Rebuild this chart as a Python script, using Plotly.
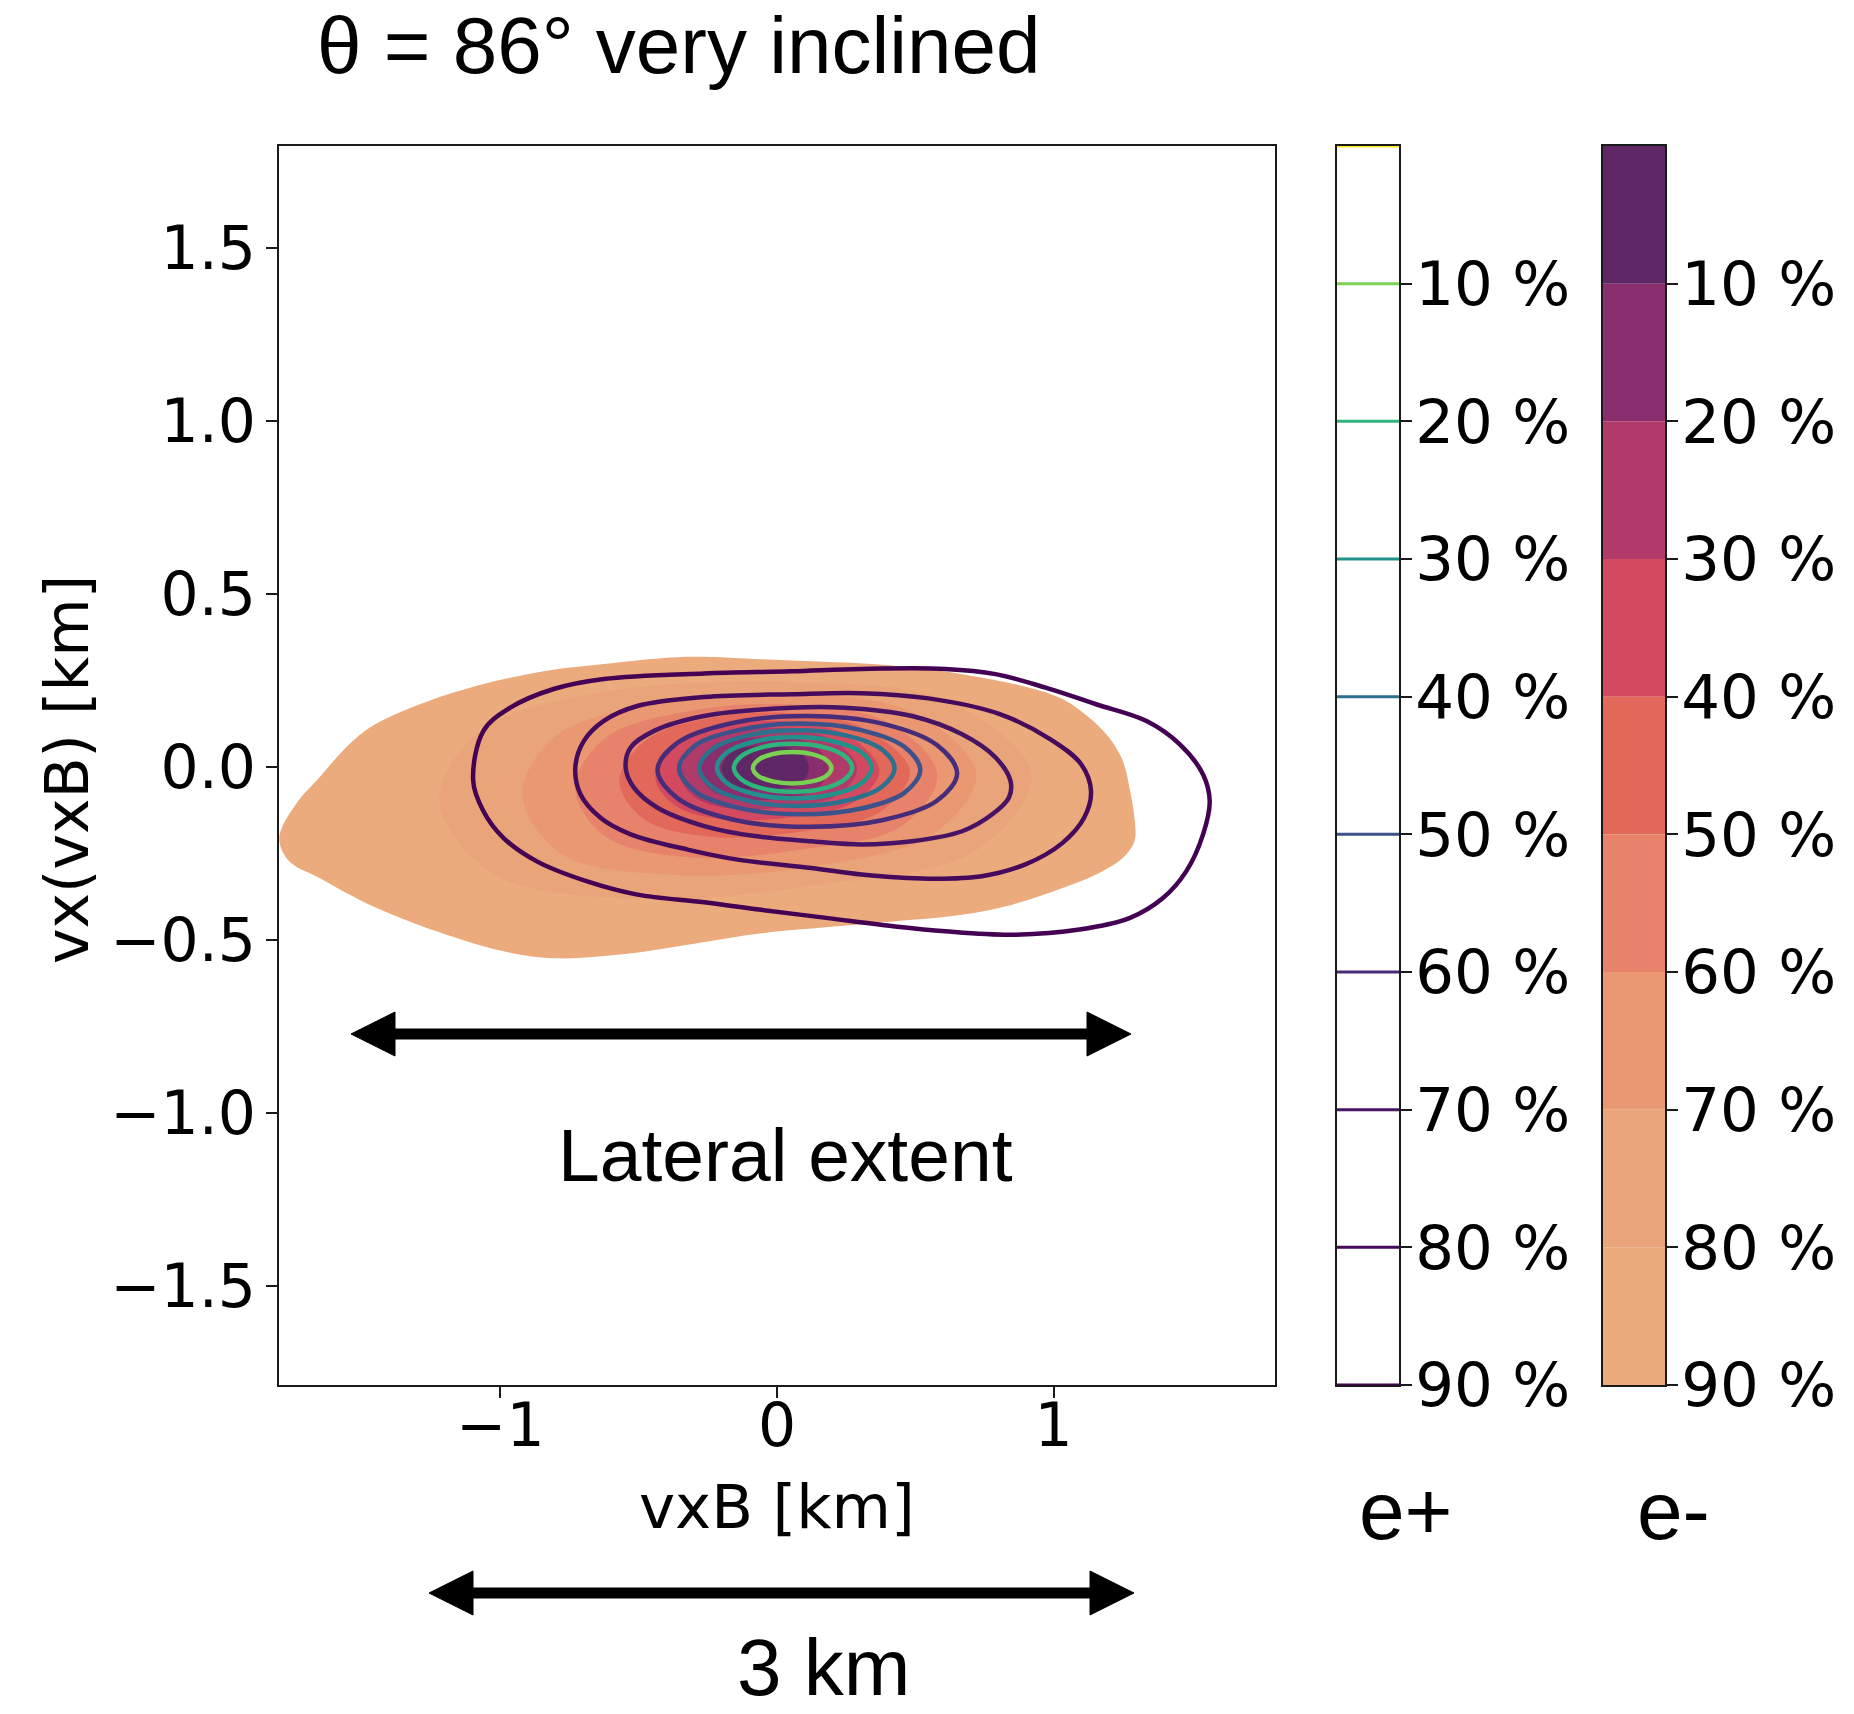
import plotly.graph_objects as go

W = 1854          # figure width in px
H = 1749          # figure height in px
FRAME_H = 1714    # vertical extent used by the pixel helpers below

# Percentage levels shown on both colour bars
levels = [10, 20, 30, 40, 50, 60, 70, 80, 90]
level_labels = ["10 %", "20 %", "30 %", "40 %", "50 %", "60 %", "70 %", "80 %", "90 %"]

# e+ contour line colours: cap line (0 %) and one per level
ep_cap_color = "#fde725"
ep_colors = ["#7ad151", "#2fb47c", "#21918c", "#2c718e", "#3b528b",
             "#472c7a", "#471365", "#450a5c", "#440154"]

# e- filled band colours, band 0-10 % ... 80-90 %
em_colors = ["#5f2766", "#8b2e6d", "#b03a69", "#d34a60", "#e2685a",
             "#e6836a", "#e99872", "#eaa479", "#ebab7c"]

# ---- e- containment contours (filled), vxB / vx(vxB) in km ----
em90_x = [-1.799, -1.739, -1.654, -1.570, -1.473, -1.291, -1.110, -0.868, -0.626, -0.323,
          -0.057, 0.124, 0.379, 0.669, 0.911, 1.032, 1.129, 1.201, 1.250, 1.274,
          1.292, 1.292, 1.250, 1.153, 1.032, 0.850, 0.669, 0.427, 0.185, -0.057,
          -0.300, -0.550, -0.807, -0.989, -1.230, -1.473, -1.654, -1.763]
em90_y = [-0.204, -0.107, -0.030, 0.047, 0.114, 0.182, 0.230, 0.274, 0.298, 0.319,
          0.312, 0.306, 0.296, 0.269, 0.230, 0.197, 0.143, 0.085, 0.018, -0.059,
          -0.146, -0.214, -0.262, -0.310, -0.349, -0.397, -0.426, -0.445, -0.462, -0.480,
          -0.510, -0.540, -0.552, -0.532, -0.474, -0.397, -0.320, -0.272]
em80_x = [-1.22, -1.08, -0.65, 0.10, 0.62, 0.92, 0.72, 0.15, -0.50, -1.02]
em80_y = [-0.10, 0.10, 0.215, 0.245, 0.19, -0.02, -0.24, -0.34, -0.38, -0.31]
em70_x = [-0.92, -0.80, -0.42, 0.10, 0.50, 0.72, 0.57, 0.10, -0.40, -0.78]
em70_y = [-0.08, 0.09, 0.185, 0.21, 0.155, -0.02, -0.19, -0.29, -0.31, -0.25]
em60_x = [-0.73, -0.62, -0.30, 0.08, 0.40, 0.58, 0.45, 0.07, -0.32, -0.62]
em60_y = [-0.06, 0.085, 0.165, 0.18, 0.13, -0.02, -0.17, -0.24, -0.26, -0.20]
em50_x = [-0.57, -0.47, -0.22, 0.07, 0.32, 0.48, 0.37, 0.05, -0.25, -0.48]
em50_y = [-0.04, 0.08, 0.145, 0.155, 0.11, -0.01, -0.13, -0.19, -0.20, -0.15]
em40_x = [-0.44, -0.36, -0.17, 0.06, 0.26, 0.37, 0.28, 0.04, -0.20, -0.37]
em40_y = [-0.03, 0.075, 0.125, 0.13, 0.09, -0.01, -0.10, -0.145, -0.15, -0.11]
em30_x = [-0.35, -0.29, -0.14, 0.05, 0.21, 0.29, 0.22, 0.03, -0.16, -0.30]
em30_y = [-0.02, 0.065, 0.105, 0.11, 0.075, -0.005, -0.08, -0.115, -0.12, -0.085]
em20_x = [-0.28, -0.23, -0.12, 0.03, 0.14, 0.185, 0.14, 0.02, -0.13, -0.24]
em20_y = [-0.01, 0.055, 0.082, 0.085, 0.06, -0.005, -0.065, -0.09, -0.092, -0.065]
em10_x = [-0.20, -0.17, -0.09, 0.02, 0.09, 0.115, 0.09, 0.01, -0.09, -0.17]
em10_y = [-0.005, 0.04, 0.06, 0.06, 0.04, 0.0, -0.045, -0.062, -0.064, -0.045]

# ---- e+ containment contours (lines) ----
ep10_x = [0.197, 0.178, 0.126, 0.055, -0.016, -0.068, -0.087, -0.068, -0.016, 0.055, 0.126, 0.178]
ep10_y = [-0.002, 0.021, 0.038, 0.044, 0.038, 0.021, -0.002, -0.025, -0.041, -0.047, -0.041, -0.025]
ep20_x = [0.272, 0.243, 0.165, 0.058, -0.049, -0.127, -0.156, -0.127, -0.049, 0.058, 0.165, 0.243]
ep20_y = [-0.002, 0.033, 0.059, 0.068, 0.059, 0.033, -0.002, -0.036, -0.062, -0.071, -0.062, -0.036]
ep30_x = [0.342, 0.305, 0.202, 0.062, -0.077, -0.180, -0.217, -0.180, -0.077, 0.062, 0.202, 0.305]
ep30_y = [-0.002, 0.043, 0.075, 0.087, 0.075, 0.043, -0.002, -0.046, -0.078, -0.090, -0.078, -0.046]
ep40_x = [0.425, 0.378, 0.248, 0.072, -0.104, -0.234, -0.281, -0.234, -0.104, 0.072, 0.248, 0.378]
ep40_y = [-0.003, 0.052, 0.092, 0.107, 0.092, 0.052, -0.003, -0.057, -0.097, -0.112, -0.097, -0.057]
ep50_x = [0.518, 0.460, 0.300, 0.082, -0.136, -0.296, -0.354, -0.296, -0.136, 0.082, 0.300, 0.460]
ep50_y = [-0.008, 0.059, 0.108, 0.126, 0.108, 0.063, -0.003, -0.070, -0.118, -0.136, -0.120, -0.074]
ep60_x = [0.651, 0.578, 0.380, 0.110, -0.161, -0.359, -0.432, -0.359, -0.161, 0.110, 0.380, 0.578]
ep60_y = [-0.018, 0.064, 0.126, 0.148, 0.128, 0.071, -0.008, -0.090, -0.151, -0.172, -0.153, -0.097]
ep70_x = [-0.547, -0.517, -0.432, -0.263, -0.081, 0.124, 0.306, 0.488, 0.669, 0.778,
          0.838, 0.844, 0.790, 0.669, 0.488, 0.245, 0.052, -0.263, -0.444, -0.529]
ep70_y = [-0.001, -0.059, -0.117, -0.170, -0.199, -0.214, -0.223, -0.214, -0.185, -0.136,
          -0.088, -0.040, 0.028, 0.095, 0.148, 0.172, 0.172, 0.148, 0.105, 0.057]
ep80_x = [-0.729, -0.710, -0.638, -0.529, -0.323, -0.142, 0.124, 0.306, 0.548, 0.740,
          0.900, 1.030, 1.110, 1.135, 1.100, 0.990, 0.800, 0.548, 0.306, 0.052,
          -0.263, -0.505, -0.626, -0.698]
ep80_y = [-0.001, -0.079, -0.146, -0.194, -0.238, -0.267, -0.291, -0.310, -0.322, -0.315,
          -0.280, -0.220, -0.146, -0.069, 0.008, 0.080, 0.155, 0.199, 0.214, 0.211,
          0.203, 0.177, 0.134, 0.076]
ep90_x = [-1.098, -1.061, -0.989, -0.868, -0.686, -0.505, -0.263, -0.057, 0.185, 0.427,
          0.608, 0.850, 1.093, 1.274, 1.395, 1.479, 1.540, 1.564, 1.540, 1.456,
          1.334, 1.153, 0.971, 0.790, 0.608, 0.306, 0.052, -0.263, -0.626, -0.807,
          -0.964, -1.061]
ep90_y = [-0.040, -0.127, -0.204, -0.272, -0.330, -0.368, -0.390, -0.412, -0.436, -0.460,
          -0.474, -0.484, -0.469, -0.436, -0.378, -0.301, -0.194, -0.098, -0.021, 0.066,
          0.134, 0.182, 0.230, 0.269, 0.284, 0.284, 0.277, 0.271, 0.255, 0.226,
          0.172, 0.105]

em_shapes = [(em90_x, em90_y), (em80_x, em80_y), (em70_x, em70_y), (em60_x, em60_y),
             (em50_x, em50_y), (em40_x, em40_y), (em30_x, em30_y), (em20_x, em20_y),
             (em10_x, em10_y)]
ep_shapes = [(ep90_x, ep90_y), (ep80_x, ep80_y), (ep70_x, ep70_y), (ep60_x, ep60_y),
             (ep50_x, ep50_y), (ep40_x, ep40_y), (ep30_x, ep30_y), (ep20_x, ep20_y),
             (ep10_x, ep10_y)]


def closed(v):
    return list(v) + [v[0]]


def px(x):
    return x / W


def py(y):
    # vertical pixel position (0 at top) -> paper fraction
    return 1 - y / FRAME_H


fig = go.Figure()

# e- filled regions, outermost (90 %) first
for (xs, ys), col in zip(em_shapes, em_colors[::-1]):
    fig.add_trace(go.Scatter(
        x=closed(xs), y=closed(ys), mode="lines", fill="toself",
        fillcolor=col, line=dict(width=0, shape="spline", smoothing=1.0),
        hoverinfo="skip", xaxis="x", yaxis="y"))

# e+ contour lines
for (xs, ys), col in zip(ep_shapes, ep_colors[::-1]):
    fig.add_trace(go.Scatter(
        x=closed(xs), y=closed(ys), mode="lines",
        line=dict(width=4.5, color=col, shape="spline", smoothing=1.0),
        hoverinfo="skip", xaxis="x", yaxis="y"))

# e+ colour bar: white bar with one line per level
fig.add_trace(go.Scatter(x=[0, 1], y=[0, 0], mode="lines",
                         line=dict(color=ep_cap_color, width=3), cliponaxis=False,
                         hoverinfo="skip", xaxis="x2", yaxis="y2"))
for lvl, col in zip(levels, ep_colors):
    fig.add_trace(go.Scatter(x=[0, 1], y=[lvl, lvl], mode="lines",
                             line=dict(color=col, width=3), cliponaxis=False,
                             hoverinfo="skip", xaxis="x2", yaxis="y2"))

# e- colour bar: stacked bands
fig.add_trace(go.Bar(x=[0] * 9, y=[10] * 9, base=[0] + levels[:-1], width=1,
                     marker=dict(color=em_colors, line=dict(width=0)),
                     hoverinfo="skip", xaxis="x3", yaxis="y3"))

tick_font = dict(family="DejaVu Sans", size=60, color="black")
cbar_font = dict(family="DejaVu Sans", size=61, color="black")
frame = dict(showline=True, linecolor="#1a1a1a", linewidth=2, mirror=True,
             showgrid=False, zeroline=False)

y_dom = [py(1385), py(146)]

fig.update_layout(
    width=W, height=H, margin=dict(l=0, r=0, t=0, b=0),
    paper_bgcolor="white", plot_bgcolor="white", showlegend=False,
    barmode="overlay",
    xaxis=dict(domain=[px(279), px(1275)], range=[-1.8, 1.8], anchor="y",
               tickvals=[-1, 0, 1], ticks="outside", ticklen=11, tickwidth=1.5,
               tickcolor="#1a1a1a", tickfont=tick_font, ticklabelstandoff=-24, **frame),
    yaxis=dict(domain=y_dom, range=[-1.785, 1.795], anchor="x",
               tickvals=[-1.5, -1.0, -0.5, 0.0, 0.5, 1.0, 1.5], tickformat=".1f",
               ticks="outside", ticklen=11, tickwidth=1.5, tickcolor="#1a1a1a",
               tickfont=tick_font, ticklabelstandoff=-2, **frame),
    xaxis2=dict(domain=[px(1337), px(1399)], range=[0, 1], anchor="y2",
                showticklabels=False, ticks="", **frame),
    yaxis2=dict(domain=y_dom, range=[90, 0], anchor="x2", side="right",
                tickvals=levels, ticktext=level_labels, ticks="outside",
                ticklen=11, tickwidth=1.5, tickcolor="#1a1a1a",
                tickfont=cbar_font, ticklabelstandoff=-9, **frame),
    xaxis3=dict(domain=[px(1603), px(1665)], range=[-0.5, 0.5], anchor="y3",
                showticklabels=False, ticks="", **frame),
    yaxis3=dict(domain=y_dom, range=[90, 0], anchor="x3", side="right",
                tickvals=levels, ticktext=level_labels, ticks="outside",
                ticklen=11, tickwidth=1.5, tickcolor="#1a1a1a",
                tickfont=cbar_font, ticklabelstandoff=-9, **frame),
)

# Axis titles
fig.add_annotation(text="vxB [km]", x=px(777), y=py(1506), xref="paper", yref="paper",
                   showarrow=False, xanchor="center", yanchor="middle",
                   font=dict(family="DejaVu Sans", size=61, color="black"))
fig.add_annotation(text="vx(vxB) [km]", x=px(67), y=py(770), xref="paper", yref="paper",
                   showarrow=False, xanchor="center", yanchor="middle", textangle=-90,
                   font=dict(family="DejaVu Sans", size=60, color="black"))

# Overlay texts
arial = "Liberation Sans, Arial, sans-serif"
fig.add_annotation(text="θ = 86° very inclined", x=px(679), y=py(45), xref="paper",
                   yref="paper", showarrow=False, xanchor="center", yanchor="middle",
                   font=dict(family=arial, size=80, color="black"))
fig.add_annotation(text="Lateral extent", x=px(785), y=py(1155), xref="paper",
                   yref="paper", showarrow=False, xanchor="center", yanchor="middle",
                   font=dict(family=arial, size=75, color="black"))
fig.add_annotation(text="3 km", x=px(823), y=py(1667), xref="paper",
                   yref="paper", showarrow=False, xanchor="center", yanchor="middle",
                   font=dict(family=arial, size=80, color="black"))
fig.add_annotation(text="e+", x=px(1406), y=py(1510), xref="paper",
                   yref="paper", showarrow=False, xanchor="center", yanchor="middle",
                   font=dict(family=arial, size=82, color="black"))
fig.add_annotation(text="e-", x=px(1673), y=py(1510), xref="paper",
                   yref="paper", showarrow=False, xanchor="center", yanchor="middle",
                   font=dict(family=arial, size=82, color="black"))


# Double-headed arrows
def double_arrow(x_tip_l, x_tip_r, yc, head_len=44, half_h=22, shaft=11):
    fig.add_shape(type="line", xref="paper", yref="paper",
                  x0=px(x_tip_l + head_len - 2), x1=px(x_tip_r - head_len + 2),
                  y0=py(yc), y1=py(yc), line=dict(color="black", width=shaft))
    for tip, base in ((x_tip_l, x_tip_l + head_len), (x_tip_r, x_tip_r - head_len)):
        path = (f"M {px(tip)} {py(yc)} L {px(base)} {py(yc - half_h)} "
                f"L {px(base)} {py(yc + half_h)} Z")
        fig.add_shape(type="path", xref="paper", yref="paper", path=path,
                      fillcolor="black", line=dict(color="black", width=1))


double_arrow(351, 1131, 1034)
double_arrow(429, 1134, 1593)

fig.write_html("out.html")
